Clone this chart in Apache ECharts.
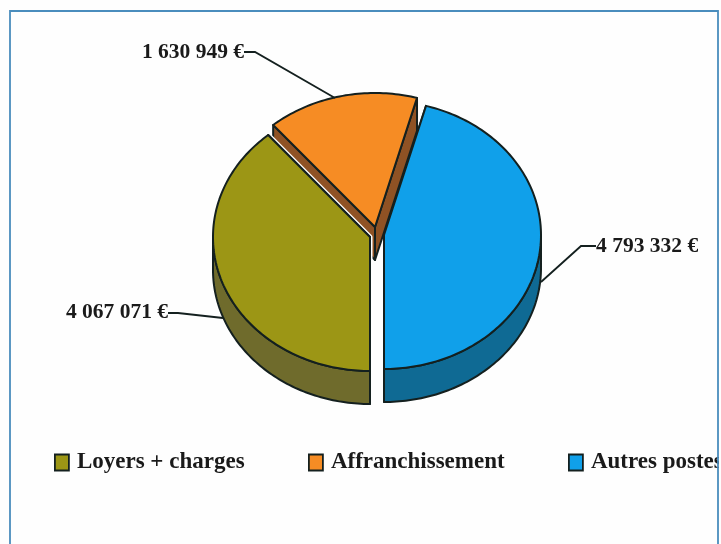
<!DOCTYPE html>
<html>
<head>
<meta charset="utf-8">
<style>html,body{margin:0;padding:0;background:#fff}#c{width:721px;height:544px}</style>
<script src="https://cdn.jsdelivr.net/npm/echarts@6/dist/echarts.min.js"></script>
</head>
<body>
<div id="c"></div>
<script>
const categories = ['Loyers + charges', 'Affranchissement', 'Autres postes'];
const values = [4067071, 1630949, 4793332];

// Styling only, per slice
const topColors = ['#9c9615', '#f68c24', '#10a0ea'];
const wallColors = ['#6f6b2c', '#8f5224', '#0f6a94'];
const centers = [[370, 237], [375, 227], [384, 235]];
const labelAnchors = [[168, 312, 'right'], [244, 52, 'right'], [596, 246, 'left']];
const leaderPaths = [
  [[168, 313], [178, 313], [223, 318]],
  [[244, 52], [255, 52], [335, 98]],
  [[596, 246], [581, 246], [541, 282]]
];
const legendLefts = [54, 308, 568];
const drawOrder = [2, 1, 3];
const RX = 157, RY = 134, DEPTH = 33, OUTLINE = '#14201f';
const SERIF = '"Liberation Serif", "Times New Roman", serif';

const total = values.reduce((a, b) => a + b, 0);
const frValue = v => String(v).replace(/\B(?=(\d{3})+$)/g, ' ') + ' €';

function arc(c, from, to, dy) {
  const pts = [], n = Math.max(2, Math.ceil(Math.abs(to - from) / 0.02));
  for (let k = 0; k <= n; k++) {
    const t = from + (to - from) * k / n;
    pts.push([c[0] - RX * Math.sin(t), c[1] + RY * Math.cos(t) + dy]);
  }
  return pts;
}

function sliceRenderer(i) {
  const before = values.slice(0, i).reduce((a, b) => a + b, 0);
  return function (params, api) {
    const value = api.value(0);
    const a0 = before / total * 2 * Math.PI;
    const a1 = a0 + value / total * 2 * Math.PI;
    const c = centers[i];
    const children = [];
    const face = (pts, fill, extra) => children.push({
      type: 'polygon', shape: { points: pts },
      style: Object.assign({ fill: fill, stroke: OUTLINE, lineWidth: 2, lineJoin: 'round' }, extra || {})
    });
    const top = [c].concat(arc(c, a0, a1, 0));

    // white slit that separates this slice from the one behind it
    if (i === 0) face(top, '#fff', { stroke: '#fff', lineWidth: 5 });

    // radial cut faces
    [a0, a1].forEach(a => {
      const e = arc(c, a, a, 0)[0];
      face([c, e, [e[0], e[1] + DEPTH], [c[0], c[1] + DEPTH]], wallColors[i]);
    });

    // visible part of the outer wall (front half of the ellipse)
    [[0, Math.PI / 2], [1.5 * Math.PI, 2 * Math.PI]].forEach(r => {
      const s = Math.max(a0, r[0]), e = Math.min(a1, r[1]);
      if (e > s) {
        const up = arc(c, s, e, 0), down = arc(c, s, e, DEPTH).reverse();
        face(up.concat(down), wallColors[i]);
      }
    });

    face(top, topColors[i]);

    children.push({
      type: 'polyline', shape: { points: leaderPaths[i] },
      style: { fill: 'none', stroke: OUTLINE, lineWidth: 1.8 }
    });
    const la = labelAnchors[i];
    children.push({
      type: 'text',
      style: {
        x: la[0], y: la[1], text: frValue(value), align: la[2], verticalAlign: 'middle',
        font: 'bold 21.5px ' + SERIF, fill: '#1a1a1a'
      }
    });
    return { type: 'group', children: children };
  };
}

const chart = echarts.init(document.getElementById('c'), null, { renderer: 'canvas' });
chart.setOption({
  animation: false,
  backgroundColor: '#fefefe',
  legend: categories.map((name, i) => ({
    data: [name], left: legendLefts[i], top: 451, orient: 'horizontal', padding: 0,
    itemWidth: 14, itemHeight: 16, selectedMode: false,
    icon: 'rect',
    itemStyle: { color: topColors[i], borderColor: OUTLINE, borderWidth: 1.8 },
    textStyle: { fontFamily: SERIF, fontWeight: 'bold', fontSize: 23, color: '#1a1a1a', padding: [3, 0, 0, 3] }
  })),
  series: categories.map((name, i) => ({
    type: 'custom', name: name, coordinateSystem: 'none', z: drawOrder[i],
    itemStyle: { color: topColors[i] },
    renderItem: sliceRenderer(i),
    data: [[values[i]]],
    silent: true
  })),
  graphic: [{
    type: 'rect', z: 99, silent: true,
    shape: { x: 719, y: 0, width: 2, height: 544 },
    style: { fill: '#fefefe' }
  }, {
    type: 'rect', z: 100, silent: true,
    shape: { x: 10, y: 11, width: 708, height: 600 },
    style: { fill: 'none', stroke: '#4a8dbd', lineWidth: 1.8 }
  }]
});
</script>
</body>
</html>
